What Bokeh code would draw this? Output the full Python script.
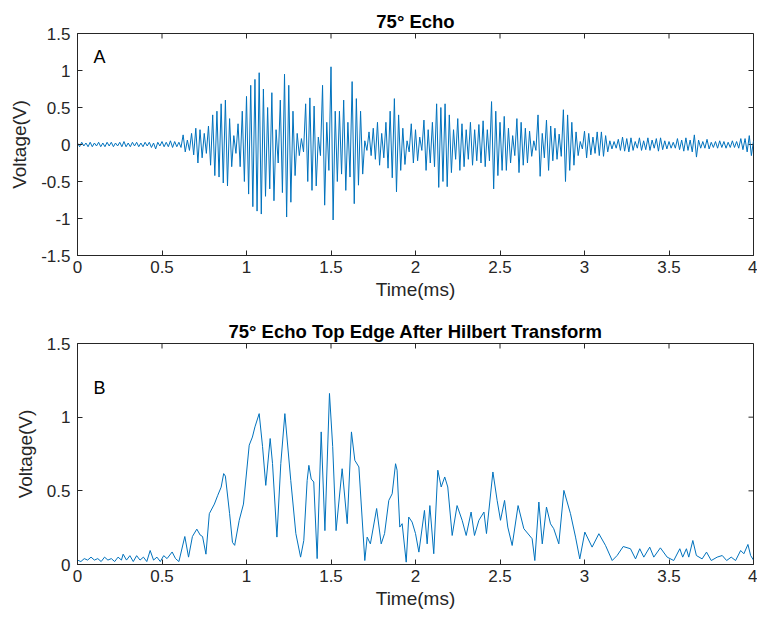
from bokeh.plotting import figure
from bokeh.models import Range1d, FixedTicker, Label
from bokeh.layouts import column
from bokeh.embed import file_html
from bokeh.resources import INLINE
import numpy as np

# ---------------- data ----------------
# Panel A: alternating peak / trough values of the echo, sampled every 0.0125 ms from 0 to 4 ms
echo_v = [
    0.02, -0.03, 0.03, -0.02, 0.02, -0.03, 0.03, -0.03, 0.02, -0.02,
    0.03, -0.03, 0.02, -0.03, 0.03, -0.02, 0.03, -0.03, 0.02, -0.02,
    0.03, -0.03, 0.04, -0.03, 0.02, -0.03, 0.03, -0.02, 0.03, -0.03,
    0.02, -0.03, 0.03, -0.02, 0.03, -0.04, 0.02, -0.06, 0.03, -0.02,
    0.04, -0.03, 0.03, -0.03, 0.05, -0.04, 0.04, -0.03, 0.03, -0.04,
    0.13, -0.10, 0.06, -0.08, 0.15, -0.14, 0.22, -0.25, 0.20, -0.18,
    0.15, -0.12, 0.25, -0.28, 0.40, -0.42, 0.45, -0.44, 0.55, -0.52,
    0.60, -0.56, 0.35, -0.30, 0.12, -0.12, 0.28, -0.30, 0.45, -0.50,
    0.65, -0.67, 0.80, -0.84, 0.88, -0.90, 0.97, -0.94, 0.75, -0.70,
    0.50, -0.60, 0.70, -0.76, 0.20, -0.25, 0.60, -0.65, 0.95, -0.98,
    0.80, -0.78, 0.45, -0.42, 0.15, -0.15, 0.08, -0.10, 0.55, -0.50,
    0.63, -0.62, 0.52, -0.56, 0.10, -0.15, 0.80, -0.82, 0.30, -0.35,
    1.05, -1.02, 0.45, -0.50, 0.45, -0.40, 0.60, -0.62, 0.30, -0.44,
    0.85, -0.80, 0.62, -0.55, 0.45, -0.40, 0.05, -0.08, 0.17, -0.15,
    0.22, -0.20, 0.30, -0.28, 0.15, -0.18, 0.30, -0.32, 0.45, -0.45,
    0.62, -0.64, 0.40, -0.35, 0.22, -0.27, 0.05, -0.10, 0.28, -0.25,
    0.20, -0.22, 0.10, -0.08, 0.33, -0.35, 0.20, -0.25, 0.30, -0.30,
    0.55, -0.58, 0.50, -0.50, 0.55, -0.57, 0.40, -0.38, 0.20, -0.20,
    0.35, -0.35, 0.28, -0.30, 0.20, -0.20, 0.30, -0.28, 0.20, -0.22,
    0.27, -0.25, 0.32, -0.30, 0.20, -0.22, 0.58, -0.60, 0.45, -0.42,
    0.30, -0.35, 0.38, -0.35, 0.22, -0.25, 0.12, -0.15, 0.35, -0.38,
    0.30, -0.28, 0.22, -0.25, 0.18, -0.16, 0.05, -0.08, 0.40, -0.43,
    0.15, -0.18, 0.33, -0.35, 0.25, -0.22, 0.22, -0.20, 0.14, -0.16,
    0.47, -0.50, 0.40, -0.35, 0.30, -0.28, 0.17, -0.15, 0.04, -0.06,
    0.18, -0.18, 0.15, -0.14, 0.10, -0.12, 0.17, -0.15, 0.17, -0.16,
    0.12, -0.10, 0.05, -0.06, 0.04, -0.05, 0.07, -0.08, 0.10, -0.09,
    0.08, -0.10, 0.09, -0.08, 0.04, -0.05, 0.09, -0.08, 0.05, -0.07,
    0.09, -0.08, 0.06, -0.05, 0.08, -0.09, 0.09, -0.07, 0.05, -0.06,
    0.04, -0.05, 0.03, -0.05, 0.08, -0.07, 0.06, -0.09, 0.09, -0.08,
    0.06, -0.10, 0.13, -0.17, 0.06, -0.05, 0.04, -0.05, 0.07, -0.06,
    0.03, -0.04, 0.04, -0.05, 0.05, -0.04, 0.04, -0.05, 0.03, -0.04,
    0.05, -0.04, 0.04, -0.05, 0.08, -0.07, 0.08, -0.10, 0.12, -0.15,
    0.05,
]

# Panel B: Hilbert envelope (top edge), breakpoints
env_t = [
    0.00, 0.02, 0.04, 0.06, 0.08, 0.10, 0.12, 0.14, 0.16, 0.18,
    0.20, 0.22, 0.24, 0.26, 0.27, 0.29, 0.31, 0.33, 0.35, 0.37,
    0.39, 0.41, 0.43, 0.45, 0.47, 0.49, 0.51, 0.53, 0.56, 0.58,
    0.60, 0.635, 0.657, 0.68, 0.706, 0.726, 0.74, 0.76, 0.78, 0.81,
    0.83, 0.85, 0.865, 0.875, 0.90, 0.917, 0.93, 0.957, 0.982, 1.016,
    1.035, 1.05, 1.075, 1.095, 1.114, 1.14, 1.154, 1.18, 1.203, 1.227,
    1.262, 1.292, 1.32, 1.339, 1.359, 1.369, 1.383, 1.398, 1.418, 1.442,
    1.464, 1.491, 1.51, 1.53, 1.566, 1.596, 1.621, 1.641, 1.665, 1.70,
    1.714, 1.733, 1.77, 1.797, 1.817, 1.842, 1.862, 1.882, 1.891, 1.907,
    1.921, 1.945, 1.96, 1.98, 2.00, 2.02, 2.053, 2.069, 2.085, 2.108,
    2.132, 2.152, 2.173, 2.191, 2.217, 2.246, 2.276, 2.30, 2.329, 2.349,
    2.375, 2.405, 2.42, 2.458, 2.483, 2.503, 2.527, 2.546, 2.572, 2.607,
    2.641, 2.69, 2.706, 2.73, 2.75, 2.775, 2.799, 2.818, 2.848, 2.878,
    2.917, 2.947, 2.972, 3.002, 3.045, 3.085, 3.124, 3.164, 3.193, 3.229,
    3.272, 3.302, 3.327, 3.351, 3.386, 3.41, 3.449, 3.489, 3.528, 3.564,
    3.581, 3.603, 3.617, 3.641, 3.662, 3.696, 3.722, 3.75, 3.785, 3.815,
    3.841, 3.868, 3.894, 3.924, 3.943, 3.967, 3.983, 4.00,
]
env_v = [
    0.03, 0.02, 0.04, 0.03, 0.05, 0.03, 0.04, 0.02, 0.05, 0.03,
    0.04, 0.02, 0.05, 0.03, 0.07, 0.03, 0.06, 0.02, 0.06, 0.03,
    0.05, 0.02, 0.095, 0.03, 0.05, 0.02, 0.06, 0.04, 0.085, 0.04,
    0.02, 0.19, 0.05, 0.19, 0.24, 0.20, 0.19, 0.07, 0.345, 0.41,
    0.47, 0.525, 0.617, 0.60, 0.345, 0.15, 0.13, 0.30, 0.41, 0.81,
    0.865, 0.934, 1.024, 0.80, 0.537, 0.855, 0.685, 0.186, 0.685, 1.024,
    0.57, 0.21, 0.05, 0.163, 0.571, 0.673, 0.58, 0.56, 0.04, 0.90,
    0.23, 1.161, 0.80, 0.23, 0.65, 0.277, 0.90, 0.707, 0.662, 0.027,
    0.186, 0.14, 0.38, 0.14, 0.21, 0.435, 0.48, 0.684, 0.64, 0.254,
    0.277, 0.016, 0.322, 0.288, 0.21, 0.084, 0.367, 0.14, 0.40, 0.073,
    0.64, 0.526, 0.594, 0.526, 0.197, 0.40, 0.30, 0.197, 0.356, 0.197,
    0.30, 0.356, 0.21, 0.628, 0.435, 0.30, 0.435, 0.254, 0.129, 0.40,
    0.243, 0.175, 0.027, 0.424, 0.14, 0.39, 0.276, 0.243, 0.14, 0.503,
    0.345, 0.186, 0.038, 0.22, 0.118, 0.209, 0.13, 0.027, 0.061, 0.122,
    0.107, 0.038, 0.107, 0.05, 0.118, 0.05, 0.113, 0.05, 0.027, 0.107,
    0.05, 0.107, 0.05, 0.163, 0.061, 0.038, 0.084, 0.027, 0.05, 0.061,
    0.027, 0.05, 0.027, 0.095, 0.073, 0.136, 0.061, 0.03,
]

x_ticks = [0, 0.5, 1, 1.5, 2, 2.5, 3, 3.5, 4]
x_labels = ["0", "0.5", "1", "1.5", "2", "2.5", "3", "3.5", "4"]
y_ticks_a = [-1.5, -1, -0.5, 0, 0.5, 1, 1.5]
y_labels_a = ["-1.5", "-1", "-0.5", "0", "0.5", "1", "1.5"]
y_ticks_b = [0, 0.5, 1, 1.5]
y_labels_b = ["0", "0.5", "1", "1.5"]

# ---------------- styling ----------------
FONT = "Liberation Sans"
AX = "#262626"
LINE = "#0072BD"
TICK_PX = 5


def style(p, xt, xl, yt, yl, frame_w, frame_h):
    p.background_fill_color = "white"
    p.border_fill_color = "white"
    p.outline_line_color = AX
    p.outline_line_width = 1
    p.xgrid.visible = False
    p.ygrid.visible = False
    p.title.align = "center"
    p.title.text_font = FONT
    p.title.text_font_size = "18.5px"
    p.title.text_font_style = "bold"
    p.title.text_color = "black"
    p.title.standoff = 4
    for ax in [p.xaxis[0], p.yaxis[0]]:
        ax.axis_line_color = AX
        ax.major_tick_line_color = AX
        ax.major_tick_in = TICK_PX
        ax.major_tick_out = 0
        ax.minor_tick_line_color = None
        ax.major_label_text_font = FONT
        ax.major_label_text_font_size = "17px"
        ax.major_label_text_color = AX
        ax.axis_label_text_font = FONT
        ax.axis_label_text_font_size = "19px"
        ax.axis_label_text_font_style = "normal"
        ax.axis_label_text_color = AX
    p.xaxis[0].ticker = FixedTicker(ticks=xt)
    p.yaxis[0].ticker = FixedTicker(ticks=yt)
    p.xaxis[0].major_label_overrides = {t: s for t, s in zip(xt, xl)}
    p.yaxis[0].major_label_overrides = {t: s for t, s in zip(yt, yl)}
    p.xaxis[0].major_label_standoff = 5
    p.yaxis[0].major_label_standoff = 7
    p.xaxis[0].axis_label_standoff = 3
    p.yaxis[0].axis_label_standoff = 8
    # mirrored tick marks on the top and right edges (MATLAB "box on")
    x0, x1 = p.x_range.start, p.x_range.end
    y0, y1 = p.y_range.start, p.y_range.end
    dy = TICK_PX * (y1 - y0) / frame_h
    dx = TICK_PX * (x1 - x0) / frame_w
    p.segment(x0=xt, y0=[y1] * len(xt), x1=xt, y1=[y1 - dy] * len(xt),
              line_color=AX, line_width=1)
    p.segment(x0=[x1] * len(yt), y0=yt, x1=[x1 - dx] * len(yt), y1=yt,
              line_color=AX, line_width=1)


FRAME_W = 676
p1 = figure(width=757, height=312, output_backend="svg", toolbar_location=None,
            x_range=Range1d(0, 4), y_range=Range1d(-1.5, 1.5),
            title="75° Echo", min_border_left=77, min_border_right=4,
            min_border_top=33, min_border_bottom=57)
style(p1, x_ticks, x_labels, y_ticks_a, y_labels_a, FRAME_W, 222)
p1.xaxis[0].axis_label = "Time(ms)"
p1.yaxis[0].axis_label = "Voltage(V)"
t_echo = np.linspace(0, 4, len(echo_v))
p1.line(t_echo, echo_v, line_color=LINE, line_width=1)
p1.add_layout(Label(x=0.13, y=1.18, text="A", text_font=FONT, text_font_size="18px",
                    text_align="center", text_baseline="middle", text_color="black"))

p2 = figure(width=757, height=310, output_backend="svg", toolbar_location=None,
            x_range=Range1d(0, 4), y_range=Range1d(0, 1.5),
            title="75° Echo Top Edge After Hilbert Transform",
            min_border_left=77, min_border_right=4,
            min_border_top=31, min_border_bottom=58)
style(p2, x_ticks, x_labels, y_ticks_b, y_labels_b, FRAME_W, 221)
p2.xaxis[0].axis_label = "Time(ms)"
p2.yaxis[0].axis_label = "Voltage(V)"
p2.line(env_t, env_v, line_color=LINE, line_width=1)
p2.add_layout(Label(x=0.13, y=1.2, text="B", text_font=FONT, text_font_size="18px",
                    text_align="center", text_baseline="middle", text_color="black"))

layout = column(p1, p2, spacing=0)
open("out.html", "w").write(file_html(layout, INLINE))
